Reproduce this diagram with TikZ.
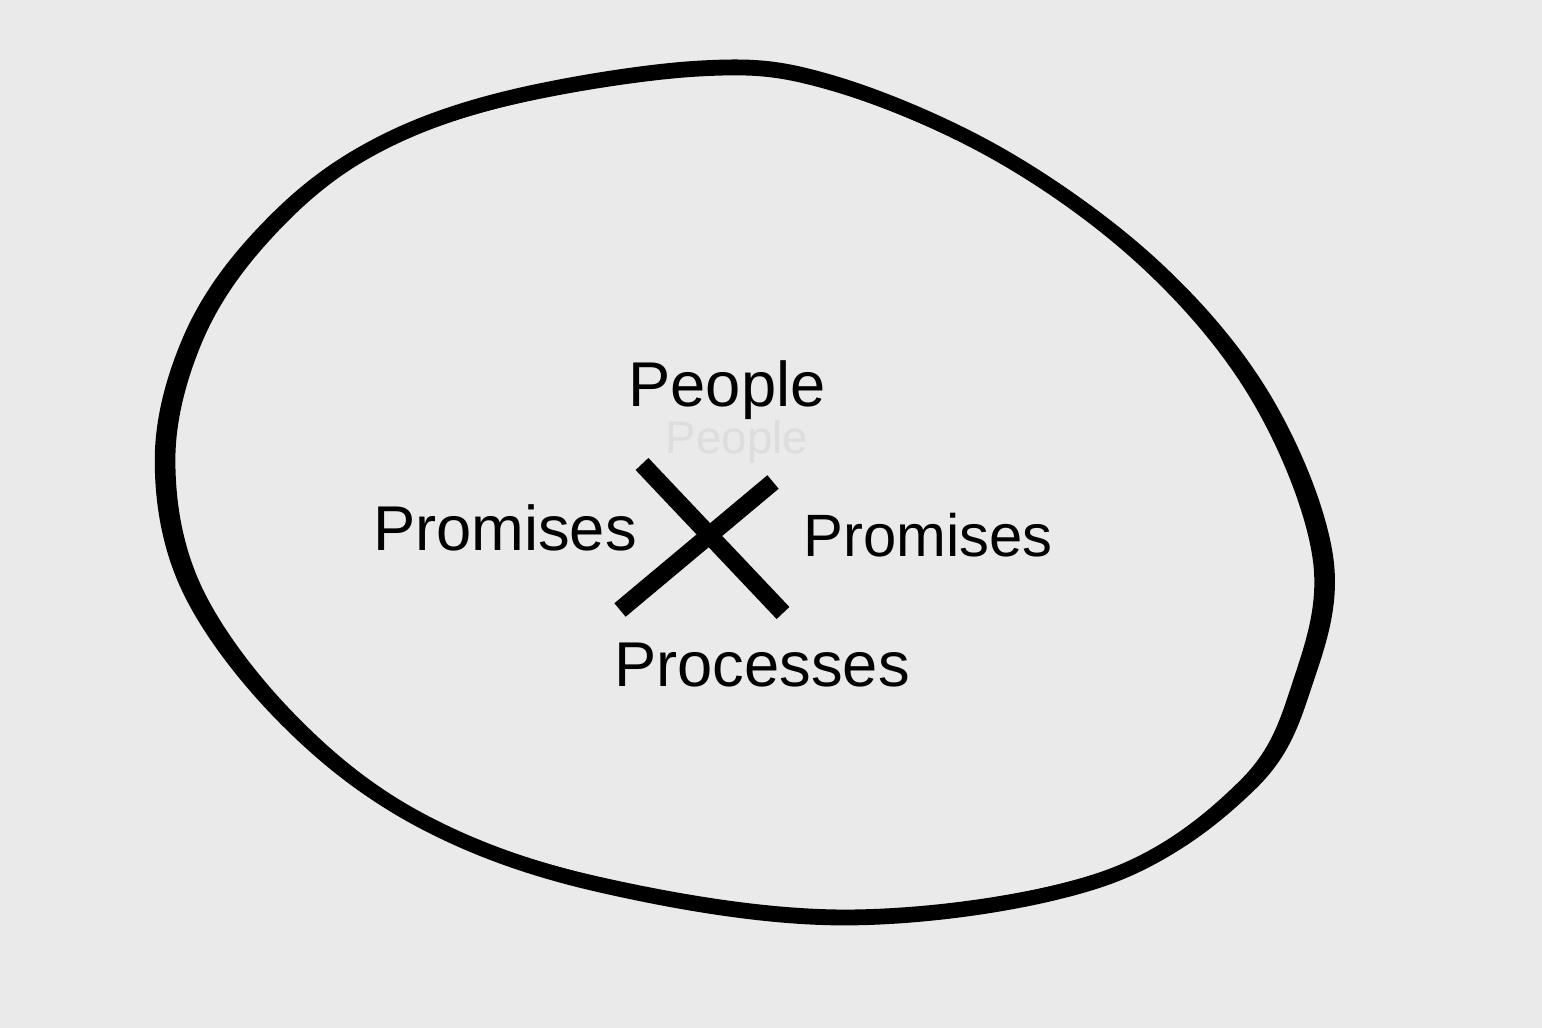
\documentclass[tikz,border=0pt]{standalone}
\usepackage{fontspec}
\setmainfont{Liberation Sans}
\usepackage{xcolor}
\definecolor{paper}{HTML}{EAEAEA}
\definecolor{ghost}{HTML}{DDDDDD}
\def\blobpts{(5.0,9.28) (7.0,9.60) (8.3,9.46) (10.0,8.73) (11.5,7.63) (12.6,6.28)
  (13.2,4.70) (13.0,3.45) (12.45,2.42) (11.0,1.48) (8.5,1.10) (6.0,1.43)
  (4.2,2.08) (2.9,3.08) (1.95,4.38) (1.68,5.68) (1.95,6.88) (2.6,7.88) (3.6,8.73)}
\tikzset{
  word/.style={font=\fontsize{18}{20}\selectfont, text=black},
  ink/.style={line width=4.2pt, line cap=round}
}

\begin{document}
\begin{tikzpicture}
            \fill[paper] (0,0) rectangle (15.42,10.28);
            \useasboundingbox (0,0) rectangle (15.42,10.28);
            % the big loop, two passes so the sides come out heavier
            \draw[ink] plot[smooth cycle, tension=0.6] coordinates {\blobpts};
            \begin{scope}[shift={(7.45,5.35)}, xscale=1.012, yscale=0.995, shift={(-7.45,-5.35)}]
              \draw[ink, line width=3.6pt] plot[smooth cycle, tension=0.6] coordinates {\blobpts};
            \end{scope}
            \coordinate (xa) at (6.42,5.64);
            \coordinate (xb) at (7.83,4.15);
            \coordinate (xc) at (7.73,5.46);
            \coordinate (xd) at (6.20,4.18);
            \draw[ink, line width=5pt, line cap=butt] (xa) -- (xb);
            \draw[ink, line width=5pt, line cap=butt] (xc) -- (xd);
            \node[word, text=ghost, font=\fontsize{13}{15}\selectfont, inner sep=0pt] (pplghost) at (7.37,5.86) {People};
            \node[word] (ppl) at (7.27,6.38) {People};
            \node[word] (prmleft) at (5.05,5.0) {Promises};
            \node[word, font=\fontsize{17}{19}\selectfont] (prmright) at (9.28,4.93) {Promises};
            \node[word] (prc) at (7.62,3.63) {Processes};
        \end{tikzpicture}
\end{document}
